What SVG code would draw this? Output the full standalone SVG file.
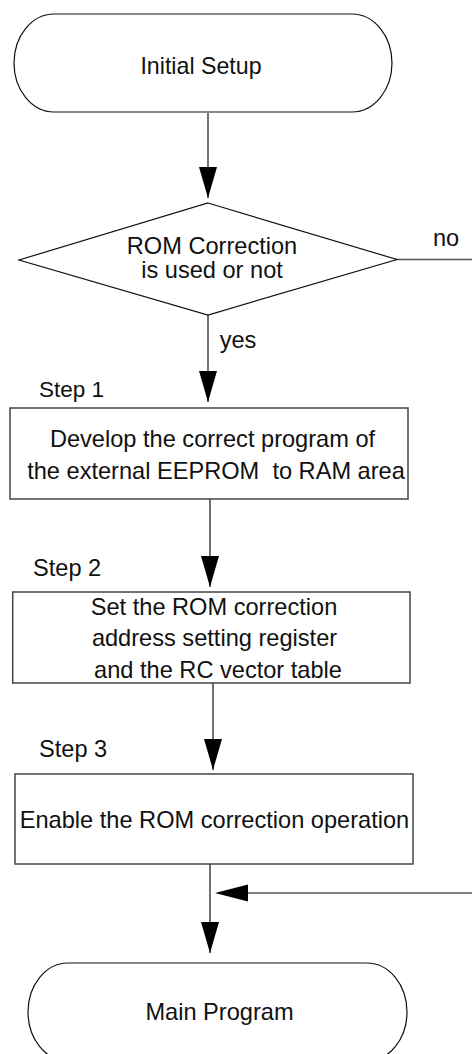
<svg xmlns="http://www.w3.org/2000/svg" width="472" height="1054" viewBox="0 0 472 1054">
<style>
text{font-family:"Liberation Sans",Arial,sans-serif;font-size:23.6px;fill:#111}
.c{text-anchor:middle}
.term{fill:#fff;stroke:#111;stroke-width:1.2}
.box{fill:#fff;stroke:#444;stroke-width:1.5}
.ln{stroke:#111;stroke-width:1.2;fill:none}
.gl{stroke:#555;stroke-width:1.6;fill:none}
</style>
<defs>
<marker id="ah" markerUnits="userSpaceOnUse" markerWidth="32" markerHeight="20" refX="31" refY="9" orient="auto">
<path d="M0,0 L31,9 L0,18 z" fill="#000"/>
</marker>
</defs>
<g id="connectors">
<line class="ln" x1="208" y1="113" x2="208" y2="198" marker-end="url(#ah)"/>
<line class="ln" x1="208" y1="315" x2="208" y2="402" marker-end="url(#ah)"/>
<line class="ln" x1="210" y1="499" x2="210" y2="587" marker-end="url(#ah)"/>
<line class="ln" x1="213" y1="683" x2="213" y2="770" marker-end="url(#ah)"/>
<line class="ln" x1="210" y1="864" x2="210" y2="953" marker-end="url(#ah)"/>
<line class="gl" x1="397" y1="259.5" x2="472" y2="259.5"/>
<line class="gl" x1="472" y1="893" x2="247" y2="893"/>
<path d="M215,893 L248,884.5 L248,901.5 z" fill="#000"/>
<text x="446" y="246" class="c">no</text>
<text x="238" y="348" class="c">yes</text>
</g>
<g id="start">
<path class="term" d="M54,14 L352,14 A40,49 0 0 1 352,112 L54,112 A40,49 0 0 1 54,14 z"/>
<text x="201" y="74" class="c" style="font-size:23.2px">Initial Setup</text>
</g>
<g id="decision">
<polygon class="term" points="208,203 397,259.5 208,315 19,260"/>
<text x="212" y="254" class="c">ROM Correction</text>
<text x="212" y="278" class="c">is used or not</text>
</g>
<g id="step1">
<text x="39" y="397" style="font-size:22.5px">Step 1</text>
<rect class="box" x="10" y="408" width="398" height="91"/>
<text x="212.5" y="447" class="c">Develop the correct program of</text>
<text x="216" y="479" class="c">the external EEPROM&#160; to RAM area</text>
</g>
<g id="step2">
<text x="33" y="576">Step 2</text>
<rect class="box" x="12.7" y="592" width="397.3" height="91"/>
<text x="214" y="615" class="c">Set the ROM correction</text>
<text x="214.5" y="646" class="c">address setting register</text>
<text x="218" y="678" class="c">and the RC vector table</text>
</g>
<g id="step3">
<text x="39" y="757">Step 3</text>
<rect class="box" x="15" y="774" width="398" height="90"/>
<text x="214.5" y="828" class="c">Enable the ROM correction operation</text>
</g>
<g id="end">
<path class="term" d="M68,963 L367,963 A40,49 0 0 1 367,1061 L68,1061 A40,49 0 0 1 68,963 z"/>
<text x="219.5" y="1020" class="c">Main Program</text>
</g>
</svg>
